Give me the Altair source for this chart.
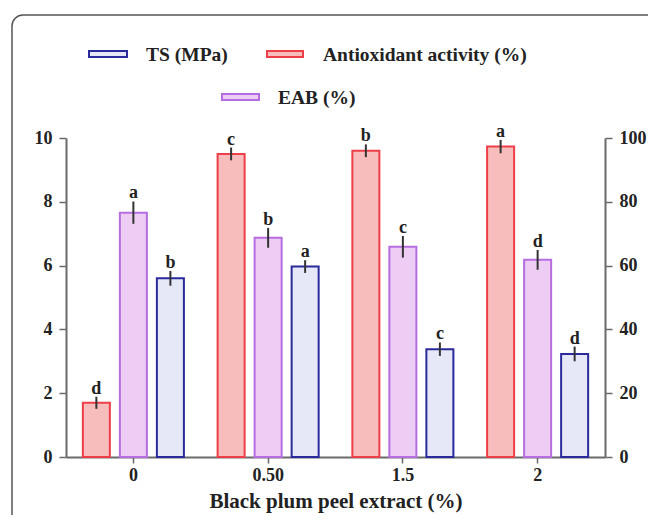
import altair as alt
import pandas as pd

# ---- data ----
categories = ["0", "0.50", "1.5", "2"]
series_order = ["Antioxidant activity (%)", "EAB (%)", "TS (MPa)"]

ts_values = [5.6, 5.97, 3.38, 3.23]          # left axis (MPa)
ts_err = [0.23, 0.2, 0.21, 0.23]
ts_letters = ["b", "a", "c", "d"]

antiox_values = [17.0, 95.0, 96.0, 97.3]      # right axis (%)
antiox_err = [1.9, 2.0, 2.0, 2.1]
antiox_letters = ["d", "c", "b", "a"]

eab_values = [76.6, 68.7, 65.9, 61.8]         # right axis (%)
eab_err = [3.5, 3.1, 3.4, 3.1]
eab_letters = ["a", "b", "c", "d"]

fills = ["#f7bcbc", "#edcdf4", "#e6e8f7"]
strokes = ["#ee3f48", "#b76de2", "#2a2a9c"]

FONT = "Liberation Serif"

def frame(names, vals, errs, letters):
    rows = []
    for name, v, e, l in zip(names, vals, errs, letters):
        for c, vv, ee, ll in zip(categories, v, e, l):
            rows.append({"cat": c, "series": name, "value": vv,
                         "lo": vv - ee, "hi": vv + ee, "letter": ll})
    return pd.DataFrame(rows)

left_df = frame(["TS (MPa)"], [ts_values], [ts_err], [ts_letters])
right_df = frame(["Antioxidant activity (%)", "EAB (%)"],
                 [antiox_values, eab_values], [antiox_err, eab_err],
                 [antiox_letters, eab_letters])

x_enc = alt.X("cat:N", sort=categories,
              scale=alt.Scale(paddingInner=0.176, paddingOuter=0.088),
              axis=alt.Axis(title="Black plum peel extract (%)", labelAngle=0,
                            tickSize=6, labelPadding=3, titlePadding=6,
                            labelFontSize=18, titleFontSize=21))
xo_enc = alt.XOffset("series:N",
                     scale=alt.Scale(domain=series_order, paddingInner=0.27,
                                     paddingOuter=0.135))
fill_enc = alt.Fill("series:N", scale=alt.Scale(domain=series_order, range=fills),
                    legend=None)
stroke_enc = alt.Stroke("series:N", scale=alt.Scale(domain=series_order, range=strokes),
                        legend=None)


def sublayer(df, domain, axis):
    base = alt.Chart(df)
    y_enc = alt.Y("value:Q", scale=alt.Scale(domain=domain, nice=False), axis=axis)
    bars = base.mark_bar(strokeWidth=2).encode(
        x=x_enc, xOffset=xo_enc, y=y_enc, fill=fill_enc, stroke=stroke_enc)
    errs = base.mark_rule(color="#333333", strokeWidth=2).encode(
        x=x_enc, xOffset=xo_enc, y=alt.Y("lo:Q"), y2="hi:Q")
    txt = base.mark_text(font=FONT, fontWeight="bold", fontSize=18,
                         baseline="alphabetic", dy=-3, color="#222222").encode(
        x=x_enc, xOffset=xo_enc, y=alt.Y("hi:Q"), text="letter:N")
    return alt.layer(bars, errs, txt)


left_axis = alt.Axis(orient="left", title=None, values=list(range(0, 11)),
                     labelExpr="datum.value % 2 == 0 ? datum.label : ''",
                     tickSize={"condition": {"test": "datum.value % 2 == 0", "value": 7}, "value": 4},
                     labelFontSize=18, labelPadding=7)
right_axis = alt.Axis(orient="right", title=None, values=list(range(0, 101, 10)),
                      labelExpr="datum.value % 20 == 0 ? datum.label : ''",
                      tickSize={"condition": {"test": "datum.value % 20 == 0", "value": 7}, "value": 4},
                      labelFontSize=18, labelPadding=7)

left_layer = sublayer(left_df, [0, 10], left_axis)
right_layer = sublayer(right_df, [0, 100], right_axis)

one = pd.DataFrame({"k": [0]})

# rounded frame around the figure
border = alt.Chart(one).mark_rect(fill=None, stroke="#555555", strokeWidth=1.5,
                                  cornerRadius=11).encode(
    x=alt.value(-54), x2=alt.value(700), y=alt.value(-123), y2=alt.value(520))

# custom legend (swatch + label)
legend_items = [
    ("TS (MPa)", 2, 23, 61, -87, -81, 80, -83),
    ("Antioxidant activity (%)", 0, 201, 237, -87, -81, 257, -83),
    ("EAB (%)", 1, 156, 193, -44, -38, 212, -40),
]
legend_layers = []
for label, idx, sx1, sx2, sy1, sy2, tx, ty in legend_items:
    legend_layers.append(alt.Chart(one).mark_rect(
        fill=fills[idx], stroke=strokes[idx], strokeWidth=2).encode(
        x=alt.value(sx1), x2=alt.value(sx2), y=alt.value(sy1), y2=alt.value(sy2)))
    legend_layers.append(alt.Chart(one).mark_text(
        text=label, font=FONT, fontWeight="bold", fontSize=19.5, align="left",
        baseline="middle", color="#222222").encode(x=alt.value(tx), y=alt.value(ty)))

chart = alt.layer(left_layer, right_layer, border, *legend_layers).resolve_scale(
    y="independent"
).properties(
    width=539, height=319,
    padding={"left": 58, "top": 130, "right": 43, "bottom": 58},
    autosize=alt.AutoSizeParams(type="none"),
    background="white",
).configure_view(stroke=None).configure_axis(
    domainColor="#6b6b6b", domainWidth=2, tickColor="#6b6b6b", tickWidth=1.5,
    labelFont=FONT, titleFont=FONT, labelFontWeight="bold", titleFontWeight="bold",
    labelColor="#222222", titleColor="#222222", grid=False,
)

chart.save("out.html", embed_options={"renderer": "svg", "actions": False})
